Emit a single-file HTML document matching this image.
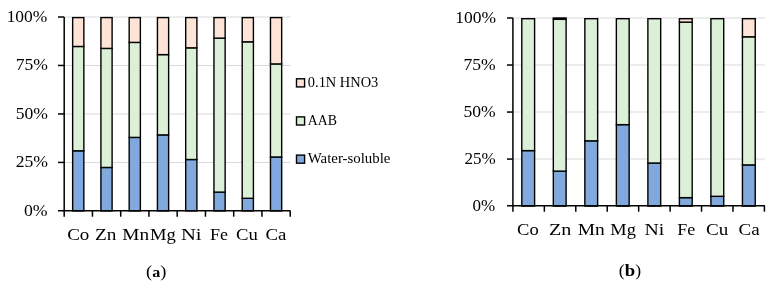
<!DOCTYPE html>
<html><head><meta charset="utf-8"><style>
html,body{margin:0;padding:0;background:#fff;}
svg{display:block;}
text{font-family:'Liberation Serif', 'DejaVu Serif', serif;fill:#000;}
</style></head><body>
<svg width="774" height="285" viewBox="0 0 774 285">
<rect width="774" height="285" fill="#fff"/>
<line x1="64.20" y1="162.43" x2="290.50" y2="162.43" stroke="#d9d9d9" stroke-width="1.1"/>
<line x1="64.20" y1="113.95" x2="290.50" y2="113.95" stroke="#d9d9d9" stroke-width="1.1"/>
<line x1="64.20" y1="65.47" x2="290.50" y2="65.47" stroke="#d9d9d9" stroke-width="1.1"/>
<line x1="64.20" y1="17.00" x2="290.50" y2="17.00" stroke="#d9d9d9" stroke-width="1.1"/>
<rect x="72.65" y="150.79" width="11.20" height="60.11" fill="#82a9dd" stroke="#000" stroke-width="1.4"/>
<rect x="72.65" y="46.47" width="11.20" height="104.32" fill="#dcf0d8" stroke="#000" stroke-width="1.4"/>
<rect x="72.65" y="17.60" width="11.20" height="28.87" fill="#fde4d6" stroke="#000" stroke-width="1.4"/>
<rect x="100.91" y="167.47" width="11.20" height="43.43" fill="#82a9dd" stroke="#000" stroke-width="1.4"/>
<rect x="100.91" y="48.41" width="11.20" height="119.05" fill="#dcf0d8" stroke="#000" stroke-width="1.4"/>
<rect x="100.91" y="17.60" width="11.20" height="30.81" fill="#fde4d6" stroke="#000" stroke-width="1.4"/>
<rect x="129.17" y="137.41" width="11.20" height="73.49" fill="#82a9dd" stroke="#000" stroke-width="1.4"/>
<rect x="129.17" y="42.40" width="11.20" height="95.01" fill="#dcf0d8" stroke="#000" stroke-width="1.4"/>
<rect x="129.17" y="17.60" width="11.20" height="24.80" fill="#fde4d6" stroke="#000" stroke-width="1.4"/>
<rect x="157.43" y="134.89" width="11.20" height="76.01" fill="#82a9dd" stroke="#000" stroke-width="1.4"/>
<rect x="157.43" y="54.62" width="11.20" height="80.27" fill="#dcf0d8" stroke="#000" stroke-width="1.4"/>
<rect x="157.43" y="17.60" width="11.20" height="37.02" fill="#fde4d6" stroke="#000" stroke-width="1.4"/>
<rect x="185.69" y="159.52" width="11.20" height="51.38" fill="#82a9dd" stroke="#000" stroke-width="1.4"/>
<rect x="185.69" y="47.83" width="11.20" height="111.69" fill="#dcf0d8" stroke="#000" stroke-width="1.4"/>
<rect x="185.69" y="17.60" width="11.20" height="30.23" fill="#fde4d6" stroke="#000" stroke-width="1.4"/>
<rect x="213.95" y="192.09" width="11.20" height="18.81" fill="#82a9dd" stroke="#000" stroke-width="1.4"/>
<rect x="213.95" y="38.14" width="11.20" height="153.96" fill="#dcf0d8" stroke="#000" stroke-width="1.4"/>
<rect x="213.95" y="17.60" width="11.20" height="20.54" fill="#fde4d6" stroke="#000" stroke-width="1.4"/>
<rect x="242.21" y="198.30" width="11.20" height="12.60" fill="#82a9dd" stroke="#000" stroke-width="1.4"/>
<rect x="242.21" y="41.82" width="11.20" height="156.48" fill="#dcf0d8" stroke="#000" stroke-width="1.4"/>
<rect x="242.21" y="17.60" width="11.20" height="24.22" fill="#fde4d6" stroke="#000" stroke-width="1.4"/>
<rect x="270.47" y="157.00" width="11.20" height="53.90" fill="#82a9dd" stroke="#000" stroke-width="1.4"/>
<rect x="270.47" y="63.92" width="11.20" height="93.07" fill="#dcf0d8" stroke="#000" stroke-width="1.4"/>
<rect x="270.47" y="17.60" width="11.20" height="46.32" fill="#fde4d6" stroke="#000" stroke-width="1.4"/>
<line x1="64.20" y1="17.00" x2="64.20" y2="216.70" stroke="#000" stroke-width="1.5"/>
<line x1="58.00" y1="210.65" x2="290.50" y2="210.65" stroke="#000" stroke-width="1.5"/>
<line x1="58.00" y1="162.43" x2="64.20" y2="162.43" stroke="#000" stroke-width="1.5"/>
<line x1="58.00" y1="113.95" x2="64.20" y2="113.95" stroke="#000" stroke-width="1.5"/>
<line x1="58.00" y1="65.47" x2="64.20" y2="65.47" stroke="#000" stroke-width="1.5"/>
<line x1="58.00" y1="17.00" x2="64.20" y2="17.00" stroke="#000" stroke-width="1.5"/>
<line x1="92.45" y1="210.65" x2="92.45" y2="216.70" stroke="#000" stroke-width="1.5"/>
<line x1="120.70" y1="210.65" x2="120.70" y2="216.70" stroke="#000" stroke-width="1.5"/>
<line x1="148.95" y1="210.65" x2="148.95" y2="216.70" stroke="#000" stroke-width="1.5"/>
<line x1="177.20" y1="210.65" x2="177.20" y2="216.70" stroke="#000" stroke-width="1.5"/>
<line x1="205.45" y1="210.65" x2="205.45" y2="216.70" stroke="#000" stroke-width="1.5"/>
<line x1="233.70" y1="210.65" x2="233.70" y2="216.70" stroke="#000" stroke-width="1.5"/>
<line x1="261.95" y1="210.65" x2="261.95" y2="216.70" stroke="#000" stroke-width="1.5"/>
<line x1="290.20" y1="210.65" x2="290.20" y2="216.70" stroke="#000" stroke-width="1.5"/>
<text x="23.97" y="215.50" textLength="23.63" lengthAdjust="spacingAndGlyphs" style="font-size:16px">0%</text>
<text x="15.69" y="167.03" textLength="32.37" lengthAdjust="spacingAndGlyphs" style="font-size:16px">25%</text>
<text x="15.73" y="118.55" textLength="32.19" lengthAdjust="spacingAndGlyphs" style="font-size:16px">50%</text>
<text x="15.73" y="70.07" textLength="32.19" lengthAdjust="spacingAndGlyphs" style="font-size:16px">75%</text>
<text x="6.65" y="21.60" textLength="40.68" lengthAdjust="spacingAndGlyphs" style="font-size:16px">100%</text>
<text x="67.18" y="240.10" textLength="22.18" lengthAdjust="spacingAndGlyphs" style="font-size:16px">Co</text>
<text x="95.03" y="240.10" textLength="21.37" lengthAdjust="spacingAndGlyphs" style="font-size:16px">Zn</text>
<text x="122.33" y="240.10" textLength="26.76" lengthAdjust="spacingAndGlyphs" style="font-size:16px">Mn</text>
<text x="150.02" y="240.10" textLength="25.82" lengthAdjust="spacingAndGlyphs" style="font-size:16px">Mg</text>
<text x="180.93" y="240.10" textLength="20.64" lengthAdjust="spacingAndGlyphs" style="font-size:16px">Ni</text>
<text x="210.06" y="240.10" textLength="17.97" lengthAdjust="spacingAndGlyphs" style="font-size:16px">Fe</text>
<text x="235.97" y="240.10" textLength="21.77" lengthAdjust="spacingAndGlyphs" style="font-size:16px">Cu</text>
<text x="265.40" y="240.10" textLength="20.91" lengthAdjust="spacingAndGlyphs" style="font-size:16px">Ca</text>
<line x1="512.90" y1="159.07" x2="765.00" y2="159.07" stroke="#d9d9d9" stroke-width="1.1"/>
<line x1="512.90" y1="112.05" x2="765.00" y2="112.05" stroke="#d9d9d9" stroke-width="1.1"/>
<line x1="512.90" y1="65.03" x2="765.00" y2="65.03" stroke="#d9d9d9" stroke-width="1.1"/>
<line x1="512.90" y1="18.00" x2="765.00" y2="18.00" stroke="#d9d9d9" stroke-width="1.1"/>
<rect x="521.80" y="150.61" width="12.80" height="55.49" fill="#82a9dd" stroke="#000" stroke-width="1.4"/>
<rect x="521.80" y="18.70" width="12.80" height="131.91" fill="#dcf0d8" stroke="#000" stroke-width="1.4"/>
<rect x="553.32" y="171.11" width="12.80" height="34.99" fill="#82a9dd" stroke="#000" stroke-width="1.4"/>
<rect x="553.32" y="19.32" width="12.80" height="151.80" fill="#dcf0d8" stroke="#000" stroke-width="1.4"/>
<rect x="553.32" y="18.00" width="12.80" height="1.32" fill="#fde4d6" stroke="#000" stroke-width="1.4"/>
<rect x="584.84" y="140.83" width="12.80" height="65.27" fill="#82a9dd" stroke="#000" stroke-width="1.4"/>
<rect x="584.84" y="18.70" width="12.80" height="122.13" fill="#dcf0d8" stroke="#000" stroke-width="1.4"/>
<rect x="616.36" y="124.65" width="12.80" height="81.45" fill="#82a9dd" stroke="#000" stroke-width="1.4"/>
<rect x="616.36" y="18.70" width="12.80" height="105.95" fill="#dcf0d8" stroke="#000" stroke-width="1.4"/>
<rect x="647.88" y="163.03" width="12.80" height="43.07" fill="#82a9dd" stroke="#000" stroke-width="1.4"/>
<rect x="647.88" y="18.70" width="12.80" height="144.33" fill="#dcf0d8" stroke="#000" stroke-width="1.4"/>
<rect x="679.40" y="197.64" width="12.80" height="8.46" fill="#82a9dd" stroke="#000" stroke-width="1.4"/>
<rect x="679.40" y="22.14" width="12.80" height="175.50" fill="#dcf0d8" stroke="#000" stroke-width="1.4"/>
<rect x="679.40" y="18.70" width="12.80" height="3.44" fill="#fde4d6" stroke="#000" stroke-width="1.4"/>
<rect x="710.92" y="196.32" width="12.80" height="9.78" fill="#82a9dd" stroke="#000" stroke-width="1.4"/>
<rect x="710.92" y="18.70" width="12.80" height="177.62" fill="#dcf0d8" stroke="#000" stroke-width="1.4"/>
<rect x="742.44" y="164.91" width="12.80" height="41.19" fill="#82a9dd" stroke="#000" stroke-width="1.4"/>
<rect x="742.44" y="36.81" width="12.80" height="128.10" fill="#dcf0d8" stroke="#000" stroke-width="1.4"/>
<rect x="742.44" y="18.70" width="12.80" height="18.11" fill="#fde4d6" stroke="#000" stroke-width="1.4"/>
<line x1="512.90" y1="18.00" x2="512.90" y2="211.70" stroke="#000" stroke-width="1.5"/>
<line x1="507.00" y1="205.85" x2="765.00" y2="205.85" stroke="#000" stroke-width="1.5"/>
<line x1="507.00" y1="159.07" x2="512.90" y2="159.07" stroke="#000" stroke-width="1.5"/>
<line x1="507.00" y1="112.05" x2="512.90" y2="112.05" stroke="#000" stroke-width="1.5"/>
<line x1="507.00" y1="65.03" x2="512.90" y2="65.03" stroke="#000" stroke-width="1.5"/>
<line x1="507.00" y1="18.00" x2="512.90" y2="18.00" stroke="#000" stroke-width="1.5"/>
<line x1="544.34" y1="205.85" x2="544.34" y2="211.70" stroke="#000" stroke-width="1.5"/>
<line x1="575.78" y1="205.85" x2="575.78" y2="211.70" stroke="#000" stroke-width="1.5"/>
<line x1="607.22" y1="205.85" x2="607.22" y2="211.70" stroke="#000" stroke-width="1.5"/>
<line x1="638.66" y1="205.85" x2="638.66" y2="211.70" stroke="#000" stroke-width="1.5"/>
<line x1="670.10" y1="205.85" x2="670.10" y2="211.70" stroke="#000" stroke-width="1.5"/>
<line x1="701.54" y1="205.85" x2="701.54" y2="211.70" stroke="#000" stroke-width="1.5"/>
<line x1="732.98" y1="205.85" x2="732.98" y2="211.70" stroke="#000" stroke-width="1.5"/>
<line x1="764.42" y1="205.85" x2="764.42" y2="211.70" stroke="#000" stroke-width="1.5"/>
<text x="472.61" y="211.10" textLength="22.70" lengthAdjust="spacingAndGlyphs" style="font-size:16px">0%</text>
<text x="464.44" y="164.07" textLength="31.22" lengthAdjust="spacingAndGlyphs" style="font-size:16px">25%</text>
<text x="463.43" y="117.05" textLength="32.26" lengthAdjust="spacingAndGlyphs" style="font-size:16px">50%</text>
<text x="463.43" y="70.03" textLength="32.26" lengthAdjust="spacingAndGlyphs" style="font-size:16px">75%</text>
<text x="455.31" y="23.00" textLength="40.74" lengthAdjust="spacingAndGlyphs" style="font-size:16px">100%</text>
<text x="517.08" y="235.20" textLength="21.65" lengthAdjust="spacingAndGlyphs" style="font-size:16px">Co</text>
<text x="548.92" y="235.20" textLength="22.36" lengthAdjust="spacingAndGlyphs" style="font-size:16px">Zn</text>
<text x="577.66" y="235.20" textLength="27.06" lengthAdjust="spacingAndGlyphs" style="font-size:16px">Mn</text>
<text x="610.32" y="235.20" textLength="25.52" lengthAdjust="spacingAndGlyphs" style="font-size:16px">Mg</text>
<text x="644.50" y="235.20" textLength="19.77" lengthAdjust="spacingAndGlyphs" style="font-size:16px">Ni</text>
<text x="677.22" y="235.20" textLength="17.97" lengthAdjust="spacingAndGlyphs" style="font-size:16px">Fe</text>
<text x="706.02" y="235.20" textLength="22.26" lengthAdjust="spacingAndGlyphs" style="font-size:16px">Cu</text>
<text x="738.49" y="235.20" textLength="21.14" lengthAdjust="spacingAndGlyphs" style="font-size:16px">Ca</text>
<rect x="296.5" y="78.80" width="8.1" height="8.1" fill="#fde4d6" stroke="#000" stroke-width="1.4"/>
<text x="307.84" y="86.70" textLength="70.44" lengthAdjust="spacingAndGlyphs" style="font-size:14px">0.1N HNO3</text>
<rect x="296.5" y="116.90" width="8.1" height="8.1" fill="#dcf0d8" stroke="#000" stroke-width="1.4"/>
<text x="307.83" y="124.80" textLength="29.19" lengthAdjust="spacingAndGlyphs" style="font-size:14px">AAB</text>
<rect x="296.5" y="155.10" width="8.1" height="8.1" fill="#82a9dd" stroke="#000" stroke-width="1.4"/>
<text x="307.79" y="162.80" textLength="82.59" lengthAdjust="spacingAndGlyphs" style="font-size:14px">Water-soluble</text>
<text x="146.07" y="277.10" textLength="20.33" lengthAdjust="spacingAndGlyphs" style="font-size:16px">(<tspan font-weight="bold" style="font-size:14px">a</tspan>)</text>
<text x="618.88" y="276.00" textLength="22.23" lengthAdjust="spacingAndGlyphs" style="font-size:16px">(<tspan font-weight="bold" style="font-size:17px">b</tspan>)</text>
</svg>
</body></html>
